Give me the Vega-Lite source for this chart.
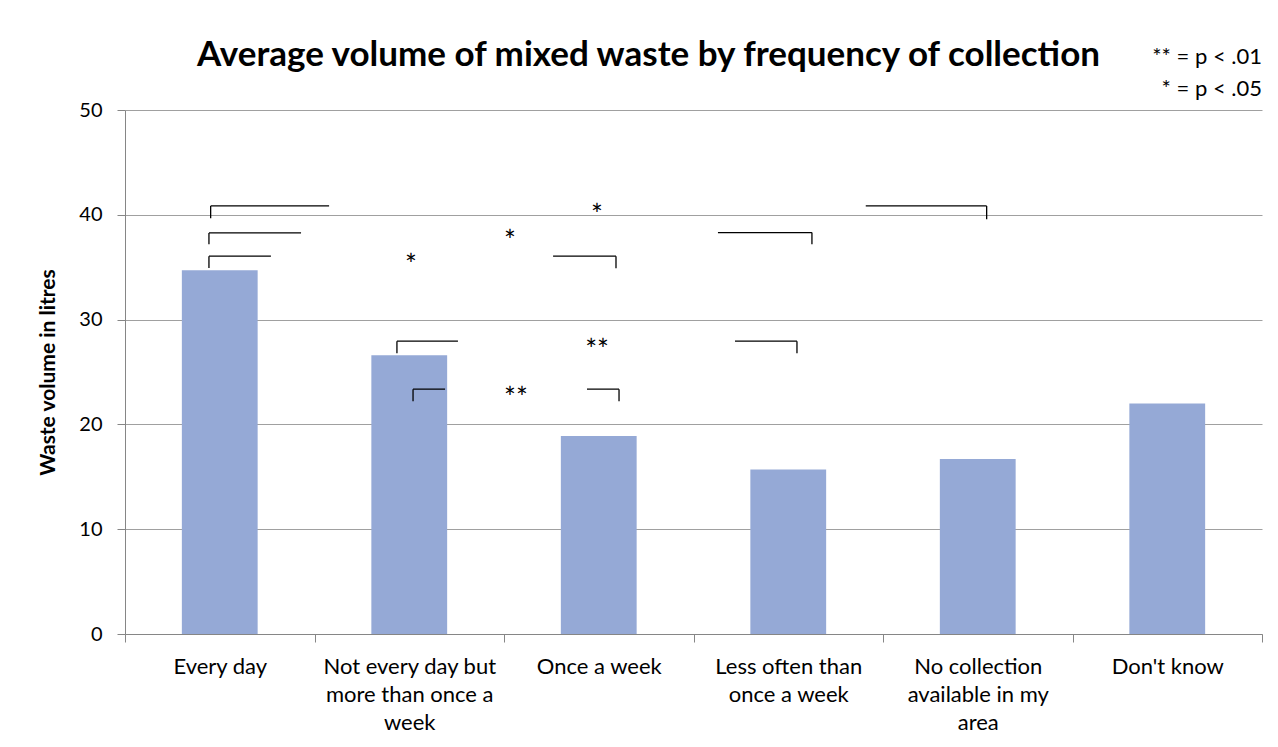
{
  "$schema": "https://vega.github.io/schema/vega-lite/v6.json",
  "width": 1137,
  "height": 524,
  "autosize": "none",
  "padding": {"left": 125, "top": 110, "right": 16, "bottom": 113},
  "background": "white",
  "config": {"view": {"stroke": null}, "font": "Lato", "text": {"font": "Lato"}},
  "title": {
    "text": "Average volume of mixed waste by frequency of collection",
    "font": "Lato",
    "fontSize": 35,
    "fontWeight": "bold",
    "color": "black",
    "anchor": "middle",
    "frame": "group",
    "dx": -45,
    "dy": 55,
    "offset": 28
  },
  "datasets": {
    "bars": [
      {"frequency": "Every day", "volume": 34.7},
      {"frequency": "Not every day but more than once a week", "volume": 26.6},
      {"frequency": "Once a week", "volume": 18.9},
      {"frequency": "Less often than once a week", "volume": 15.7},
      {"frequency": "No collection available in my area", "volume": 16.7},
      {"frequency": "Don't know", "volume": 22.0}
    ],
    "brackets": [
      {"x1": 0.452, "x2": 1.077, "y1": 40.85, "y2": 40.85},
      {"x1": 0.452, "x2": 0.452, "y1": 40.85, "y2": 39.67},
      {"x1": 3.909, "x2": 4.547, "y1": 40.85, "y2": 40.85},
      {"x1": 4.547, "x2": 4.547, "y1": 40.85, "y2": 39.58},
      {"x1": 0.443, "x2": 0.929, "y1": 38.27, "y2": 38.27},
      {"x1": 0.443, "x2": 0.443, "y1": 38.27, "y2": 37.2},
      {"x1": 3.129, "x2": 3.625, "y1": 38.3, "y2": 38.3},
      {"x1": 3.625, "x2": 3.625, "y1": 38.3, "y2": 37.2},
      {"x1": 0.443, "x2": 0.77, "y1": 36.05, "y2": 36.05},
      {"x1": 0.443, "x2": 0.443, "y1": 36.05, "y2": 34.93},
      {"x1": 2.259, "x2": 2.591, "y1": 36.05, "y2": 36.05},
      {"x1": 2.591, "x2": 2.591, "y1": 36.05, "y2": 34.9},
      {"x1": 1.435, "x2": 1.757, "y1": 27.94, "y2": 27.94},
      {"x1": 1.435, "x2": 1.435, "y1": 27.94, "y2": 26.8},
      {"x1": 3.219, "x2": 3.546, "y1": 27.94, "y2": 27.94},
      {"x1": 3.546, "x2": 3.546, "y1": 27.94, "y2": 26.8},
      {"x1": 1.52, "x2": 1.689, "y1": 23.36, "y2": 23.36},
      {"x1": 1.52, "x2": 1.52, "y1": 23.36, "y2": 22.2},
      {"x1": 2.438, "x2": 2.607, "y1": 23.36, "y2": 23.36},
      {"x1": 2.607, "x2": 2.607, "y1": 23.36, "y2": 22.2}
    ],
    "stars": [
      {"x": 2.491, "y": 39.05, "label": "*"},
      {"x": 2.032, "y": 36.57, "label": "*"},
      {"x": 1.509, "y": 34.28, "label": "*"},
      {"x": 2.491, "y": 26.18, "label": "**"},
      {"x": 2.063, "y": 21.6, "label": "**"}
    ],
    "legend": [
      {"x": 6.0, "y": 54.36, "label": "** = p < .01"},
      {"x": 6.0, "y": 51.31, "label": "* = p < .05"}
    ]
  },
  "layer": [
    {
      "data": {"name": "bars"},
      "mark": {"type": "bar", "color": "#95A9D6", "width": {"band": 0.4}},
      "encoding": {
        "x": {
          "field": "frequency",
          "type": "nominal",
          "sort": null,
          "scale": {"paddingInner": 0, "paddingOuter": 0},
          "axis": {
            "title": null,
            "labelAngle": 0,
            "tickBand": "extent",
            "domainColor": "#868686",
            "tickColor": "#868686",
            "tickSize": 8,
            "labelFontSize": 22,
            "labelFont": "Lato",
            "labelColor": "black",
            "labelLimit": 0,
            "labelPadding": 14,
            "labelLineHeight": 28,
            "labelExpr": "datum.value == 'Not every day but more than once a week' ? ['Not every day but', 'more than once a', 'week'] : datum.value == 'Less often than once a week' ? ['Less often than', 'once a week'] : datum.value == 'No collection available in my area' ? ['No collection', 'available in my', 'area'] : datum.label"
          }
        },
        "y": {
          "field": "volume",
          "type": "quantitative",
          "title": "Waste volume in litres",
          "scale": {"domain": [0, 50], "nice": false},
          "axis": {
            "values": [0, 10, 20, 30, 40, 50],
            "grid": true,
            "gridColor": "#A0A0A0",
            "domainColor": "#868686",
            "tickColor": "#868686",
            "tickSize": 8,
            "labelPadding": 15,
            "labelFontSize": 20,
            "labelFont": "Lato",
            "labelColor": "black",
            "titleFont": "Lato",
            "titleFontSize": 21,
            "titleFontWeight": "bold",
            "titleColor": "black",
            "titlePadding": 20
          }
        }
      }
    },
    {
      "layer": [
        {
          "data": {"name": "brackets"},
          "mark": {"type": "rule", "color": "black", "strokeWidth": 1.3},
          "encoding": {
            "x": {"field": "x1", "type": "quantitative", "scale": {"domain": [0, 6], "nice": false, "zero": false}, "axis": null},
            "x2": {"field": "x2"},
            "y": {"field": "y1", "type": "quantitative", "title": "Waste volume in litres"},
            "y2": {"field": "y2"}
          }
        },
        {
          "data": {"name": "stars"},
          "mark": {"type": "text", "fontSize": 28, "baseline": "alphabetic", "align": "center", "color": "black", "font": "Lato"},
          "encoding": {
            "x": {"field": "x", "type": "quantitative"},
            "y": {"field": "y", "type": "quantitative", "title": "Waste volume in litres"},
            "text": {"field": "label"}
          }
        },
        {
          "data": {"name": "legend"},
          "mark": {"type": "text", "fontSize": 22, "baseline": "alphabetic", "align": "right", "color": "black", "font": "Lato"},
          "encoding": {
            "x": {"field": "x", "type": "quantitative"},
            "y": {"field": "y", "type": "quantitative", "title": "Waste volume in litres"},
            "text": {"field": "label"}
          }
        }
      ]
    }
  ],
  "resolve": {"scale": {"x": "independent"}, "axis": {"x": "independent"}}
}
